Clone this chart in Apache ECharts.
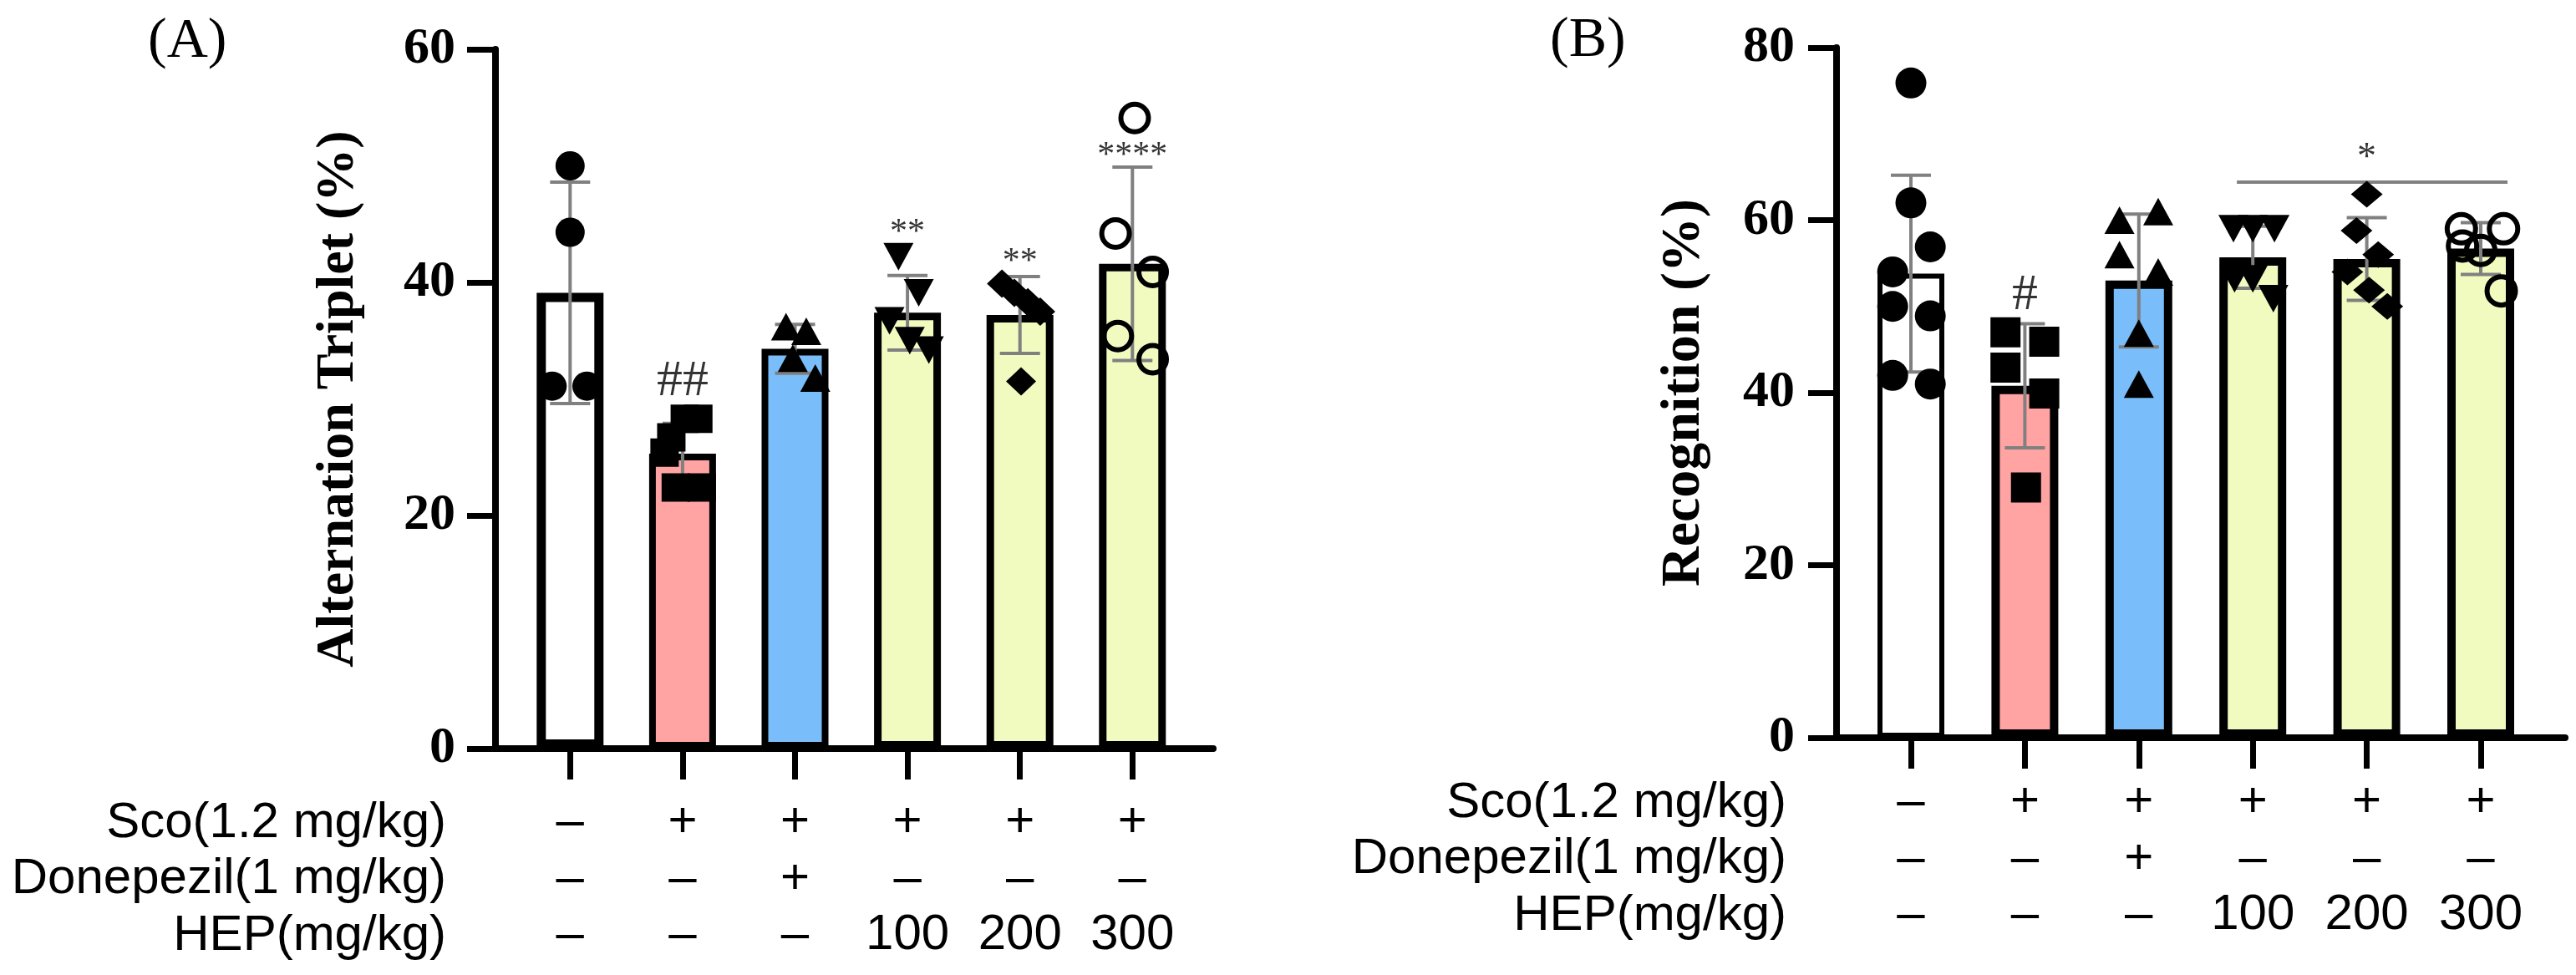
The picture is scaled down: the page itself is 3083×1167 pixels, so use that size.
<!DOCTYPE html>
<html>
<head>
<meta charset="utf-8">
<script src="https://cdn.jsdelivr.net/npm/echarts@6/dist/echarts.min.js"></script>
<style>
html,body{margin:0;padding:0;background:#fff;}
#c{width:3083px;height:1167px;}
</style>
</head>
<body>
<div id="c"></div>
<script>
// ---------- data ----------
const categories = ['Control', 'Sco', 'Sco+Donepezil', 'Sco+HEP100', 'Sco+HEP200', 'Sco+HEP300'];
const scoRow = ['–', '+', '+', '+', '+', '+'];
const donepezilRow = ['–', '–', '+', '–', '–', '–'];
const hepRow = ['–', '–', '–', '100', '200', '300'];
const rowNames = ['Sco(1.2 mg/kg)', 'Donepezil(1 mg/kg)', 'HEP(mg/kg)'];

// Panel A : Alternation Triplet (%)
const yTicksA = [0, 20, 40, 60];
const meanA = [39.1, 25.3, 34.3, 37.4, 37.2, 41.6];
const sdA = [9.5, 2.6, 2.1, 3.2, 3.3, 8.3];
const pointsA = [
  [50.0, 44.3, 31.1, 31.1],
  [28.3, 28.3, 26.7, 25.4, 22.4, 22.4],
  [36.2, 35.8, 33.5, 31.8],
  [42.2, 39.1, 36.7, 35.0, 34.2],
  [39.9, 39.1, 38.3, 37.5, 31.5],
  [54.1, 44.2, 40.9, 35.4, 33.4]
];
const jitterA = [
  [0, 0, -0.16, 0.15],
  [0.02, 0.14, -0.10, -0.16, -0.06, 0.17],
  [-0.08, 0.10, -0.02, 0.18],
  [-0.08, 0.10, -0.16, 0.02, 0.19],
  [-0.16, -0.05, 0.07, 0.18, 0.01],
  [0.02, -0.15, 0.18, -0.13, 0.18]
];
const sigTextA = ['', '##', '', '**', '**', '****'];
const sigYA = [null, 31.5, null, 44.9, 42.4, 51.5];

// Panel B : Recognition (%)
const yTicksB = [0, 20, 40, 60, 80];
const meanB = [53.8, 40.8, 53.0, 55.7, 55.5, 56.7];
const sdB = [11.4, 7.2, 7.7, 3.6, 4.8, 3.0];
const pointsB = [
  [75.9, 62.0, 56.9, 54.0, 50.0, 48.9, 42.0, 41.0],
  [47.0, 42.9, 45.9, 39.9, 29.0],
  [60.0, 61.0, 56.0, 54.0, 46.9, 41.0],
  [59.0, 59.0, 59.0, 53.2, 53.2, 50.9],
  [63.0, 58.8, 56.0, 54.0, 51.9, 50.0],
  [59.0, 59.0, 57.0, 56.5, 51.8]
];
const jitterB = [
  [0, 0, 0.17, -0.16, -0.16, 0.17, -0.16, 0.17],
  [-0.17, -0.17, 0.17, 0.17, 0.01],
  [-0.17, 0.17, -0.17, 0.17, 0, 0],
  [-0.17, 0, 0.19, -0.16, 0, 0.18],
  [0, -0.09, 0.10, -0.17, 0.02, 0.18],
  [-0.17, 0.2, -0.16, 0, 0.18]
];
const sigTextB = ['', '#', '', '', '', ''];
const sigYB = [null, 51.3, null, null, null, null];
const bracketB = { from: 3, to: 5, y: 64.4, text: '*', textY: 68.1 };

// ---------- styles ----------
const SERIF = '"Liberation Serif", "Times New Roman", serif';
const SANS = '"Liberation Sans", Arial, sans-serif';
const fills = ['#FFFFFF', '#FFA3A3', '#79BEFA', '#F1FBC0', '#F1FBC0', '#F1FBC0'];
const symbols = ['circle', 'rect', 'triangle', 'triangle', 'diamond', 'circle'];
const rotations = [0, 0, 0, 180, 0, 0];

const panels = [
  {
    key: 'A', mean: meanA, sd: sdA, pts: pointsA, jit: jitterA, sigT: sigTextA, sigY: sigYA,
    ticks: yTicksA, max: 60, name: 'Alternation Triplet (%)', nameGap: 156, nameSize: 64,
    axisGrid: { left: 593, top: 59, width: 859, height: 837 },
    barGrid: { left: 615, top: 59, width: 807.6, height: 837 },
    labelMargin: 48, catMargin: 55, borders: [11, 8, 8, 9, 9, 9],
    sizes: [35, 34, [36, 33], [36, 33], [36, 34], 33],
    rowX: 534, rowY: [985, 1052.5, 1120]
  },
  {
    key: 'B', mean: meanB, sd: sdB, pts: pointsB, jit: jitterB, sigT: sigTextB, sigY: sigYB,
    ticks: yTicksB, max: 80, name: 'Recognition (%)', nameGap: 149, nameSize: 66,
    axisGrid: { left: 2198, top: 57, width: 872, height: 826 },
    barGrid: { left: 2218.8, top: 57, width: 818.4, height: 826 },
    labelMargin: 50, catMargin: 44, borders: [6, 10, 10, 10, 10, 10],
    sizes: [37, 36, [36, 33], [36, 33], [38, 32], 34],
    rowX: 2138, rowY: [961, 1028.5, 1096]
  }
];

const grid = [], xAxis = [], yAxis = [], series = [], graphic = [];

panels.forEach((p, pi) => {
  const gAxis = grid.length;
  grid.push(Object.assign({ containLabel: false }, p.axisGrid));
  const gBar = grid.length;
  grid.push(Object.assign({ containLabel: false }, p.barGrid));

  xAxis.push({
    gridIndex: gAxis, type: 'value', min: 0, max: 1,
    axisLine: { show: true, onZero: false, lineStyle: { color: '#000', width: 8 } },
    axisTick: { show: false }, axisLabel: { show: false }, splitLine: { show: false }
  });
  const xCat = xAxis.length;
  xAxis.push({
    gridIndex: gBar, type: 'category', data: categories,
    axisLine: { show: false },
    axisTick: { show: true, alignWithLabel: true, length: 37, lineStyle: { color: '#000', width: 7 } },
    axisLabel: {
      interval: 0, margin: p.catMargin, color: '#000', fontFamily: SANS, fontSize: 60, lineHeight: 67.5,
      formatter: (v, i) => scoRow[i] + '\n' + donepezilRow[i] + '\n' + hepRow[i]
    },
    splitLine: { show: false }
  });
  const xVal = xAxis.length;
  xAxis.push({ gridIndex: gBar, type: 'value', min: -0.5, max: 5.5, show: false });

  yAxis.push({
    gridIndex: gAxis, type: 'value', min: 0, max: p.max, interval: 20,
    axisLine: { show: true, onZero: false, lineStyle: { color: '#000', width: 8 } },
    axisTick: { show: true, length: 34, lineStyle: { color: '#000', width: 7 } },
    axisLabel: { margin: p.labelMargin, color: '#000', fontFamily: SERIF, fontWeight: 'bold', fontSize: 62,
      formatter: v => (p.ticks.indexOf(v) >= 0 ? String(v) : '') },
    splitLine: { show: false },
    name: p.name, nameLocation: 'middle', nameGap: p.nameGap,
    nameTextStyle: { color: '#000', fontFamily: SERIF, fontWeight: 'bold', fontSize: p.nameSize }
  });
  const yHid = yAxis.length;
  yAxis.push({ gridIndex: gBar, type: 'value', min: 0, max: p.max, interval: 20, show: false });

  series.push({
    type: 'bar', xAxisIndex: xCat, yAxisIndex: yHid, barWidth: 80, z: 2, silent: true,
    data: p.mean.map((v, i) => ({
      value: v,
      itemStyle: { color: fills[i], borderColor: '#000', borderWidth: p.borders[i] }
    }))
  });

  series.push({
    type: 'custom', xAxisIndex: xCat, yAxisIndex: yHid, z: 3, silent: true,
    data: p.mean.map((m, i) => [i, m - p.sd[i], m + p.sd[i]]),
    encode: { x: 0, y: [1, 2] },
    renderItem: (params, api) => {
      const x = api.value(0);
      const lo = api.coord([x, api.value(1)]);
      const hi = api.coord([x, api.value(2)]);
      const half = 24;
      const st = { stroke: '#808080', lineWidth: 4 };
      return {
        type: 'group', children: [
          { type: 'line', shape: { x1: lo[0], y1: lo[1], x2: hi[0], y2: hi[1] }, style: st },
          { type: 'line', shape: { x1: hi[0] - half, y1: hi[1], x2: hi[0] + half, y2: hi[1] }, style: st },
          { type: 'line', shape: { x1: lo[0] - half, y1: lo[1], x2: lo[0] + half, y2: lo[1] }, style: st }
        ]
      };
    }
  });

  p.pts.forEach((arr, g) => {
    const open = g === 5;
    series.push({
      type: 'scatter', xAxisIndex: xVal, yAxisIndex: yHid, z: 4, silent: true,
      symbol: symbols[g], symbolSize: p.sizes[g], symbolRotate: rotations[g],
      itemStyle: open
        ? { color: 'rgba(0,0,0,0)', borderColor: '#000', borderWidth: 6, opacity: 1 }
        : { color: '#000', opacity: 1 },
      data: arr.map((v, k) => [g + p.jit[g][k], v])
    });
  });

  const sigData = [];
  p.sigT.forEach((t, i) => {
    if (!t) return;
    const star = t.indexOf('*') >= 0;
    sigData.push({
      value: [i, p.sigY[i]],
      label: { show: true, position: 'inside', formatter: t, color: '#000', fontFamily: SERIF,
        fontSize: star ? 42 : 62, offset: star ? [0, 9] : [0, 0] }
    });
  });
  if (p.key === 'B') {
    sigData.push({
      value: [(bracketB.from + bracketB.to) / 2, bracketB.textY],
      label: { show: true, position: 'inside', formatter: bracketB.text, color: '#000', fontFamily: SERIF,
        fontSize: 46, offset: [0, 10] }
    });
    series.push({
      type: 'line', xAxisIndex: xVal, yAxisIndex: yHid, z: 4, silent: true, symbol: 'none',
      lineStyle: { color: '#808080', width: 4 },
      data: [[bracketB.from - 0.14, bracketB.y], [bracketB.to + 0.235, bracketB.y]]
    });
  }
  series.push({
    type: 'scatter', xAxisIndex: xVal, yAxisIndex: yHid, z: 5, silent: true,
    symbolSize: 1, itemStyle: { color: 'rgba(0,0,0,0)' }, data: sigData
  });

  rowNames.forEach((n, r) => {
    graphic.push({
      type: 'text', x: p.rowX, y: p.rowY[r], silent: true,
      style: { text: n, fill: '#000', font: '60px ' + SANS, textAlign: 'right', textVerticalAlign: 'middle' }
    });
  });
});

graphic.push({ type: 'text', x: 177, y: 50, silent: true,
  style: { text: '(A)', fill: '#000', font: '68px ' + SERIF, textAlign: 'left', textVerticalAlign: 'middle' } });
graphic.push({ type: 'text', x: 1855, y: 49, silent: true,
  style: { text: '(B)', fill: '#000', font: '68px ' + SERIF, textAlign: 'left', textVerticalAlign: 'middle' } });

const chart = echarts.init(document.getElementById('c'), null, { renderer: 'canvas' });
chart.setOption({
  backgroundColor: '#fff',
  animation: false,
  grid, xAxis, yAxis, series, graphic
});
</script>
</body>
</html>
